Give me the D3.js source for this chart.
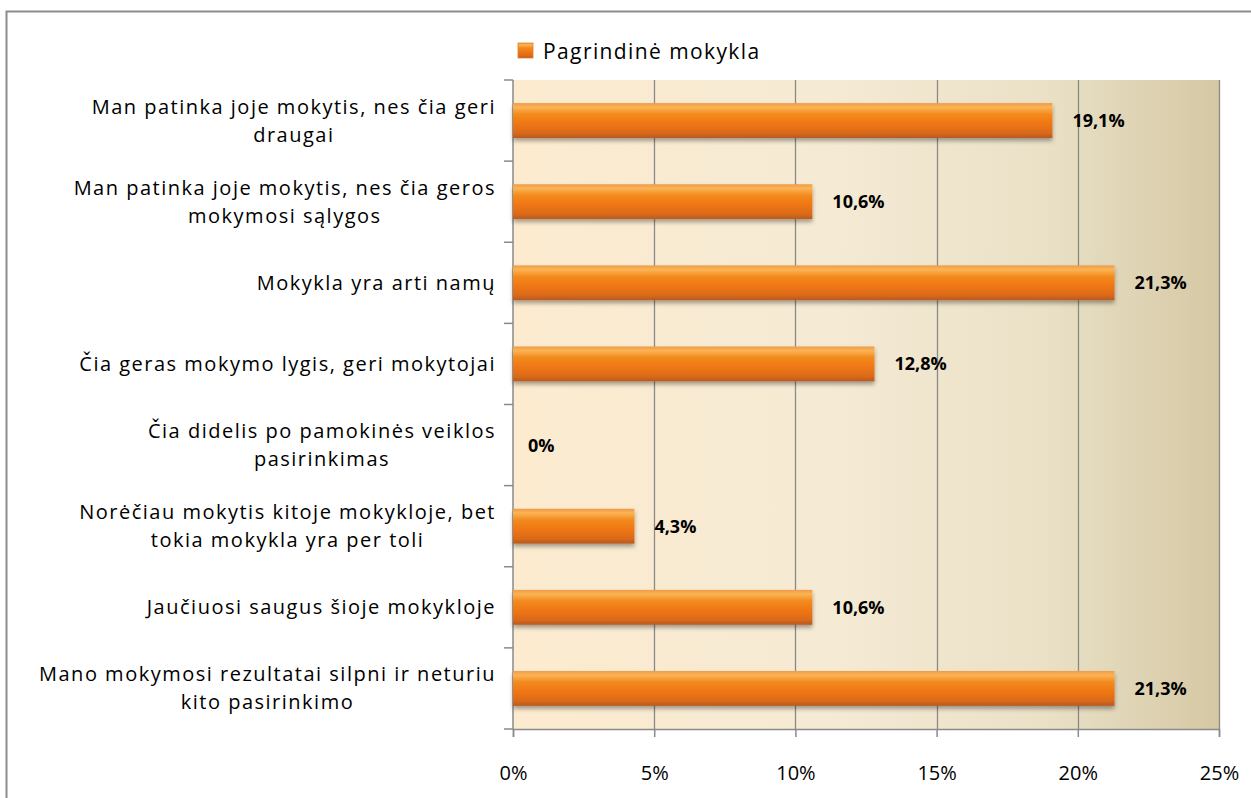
<!DOCTYPE html>
<html>
<head>
<meta charset="utf-8">
<script src="https://cdn.jsdelivr.net/npm/d3@7"></script>
<style>
  body { margin: 0; background: #fff; }
  svg { display: block; }
</style>
</head>
<body>
<div id="chart"></div>
<script>
// Data
const categories = [
    ["Man patinka joje mokytis, nes čia geri", "draugai"],
    ["Man patinka joje mokytis, nes čia geros", "mokymosi sąlygos"],
    ["Mokykla yra arti namų"],
    ["Čia geras mokymo lygis, geri mokytojai"],
    ["Čia didelis po pamokinės veiklos", "pasirinkimas"],
    ["Norėčiau mokytis kitoje mokykloje, bet", "tokia mokykla yra per toli"],
    ["Jaučiuosi saugus šioje mokykloje"],
    ["Mano mokymosi rezultatai silpni ir neturiu", "kito pasirinkimo"]
];
const values = [19.1, 10.6, 21.3, 12.8, 0, 4.3, 10.6, 21.3];
const valueLabels = ["19,1%", "10,6%", "21,3%", "12,8%", "0%", "4,3%", "10,6%", "21,3%"];
const xTicks = [0, 5, 10, 15, 20, 25];
const seriesName = "Pagrindinė mokykla";

const width = 1251, height = 798;
const plot = {left: 513, right: 1219, top: 80, bottom: 729};
const font = "'Open Sans', Lato, sans-serif";

const svg = d3.select("#chart").append("svg")
    .attr("width", width)
    .attr("height", height);

const defs = svg.append("defs");

// plot background gradient
const bg = defs.append("linearGradient").attr("id", "bgGrad")
    .attr("x1", "0").attr("x2", "1").attr("y1", "0").attr("y2", "0");
[["0", "#FCEBCF"], ["0.45", "#F5EAD4"], ["0.75", "#EAE1C7"], ["1", "#D5C8A4"]]
    .forEach(([o, c]) => bg.append("stop").attr("offset", o).attr("stop-color", c));

// bar gradient (vertical)
const bar = defs.append("linearGradient").attr("id", "barGrad")
    .attr("x1", "0").attr("x2", "0").attr("y1", "0").attr("y2", "1");
[["0", "#F09A4A"], ["0.12", "#FBB454"], ["0.32", "#F38A1E"], ["0.6", "#EF7612"], ["0.85", "#DB6A1A"], ["1", "#B65A22"]]
    .forEach(([o, c]) => bar.append("stop").attr("offset", o).attr("stop-color", c));

const shadow = defs.append("filter").attr("id", "shadow")
    .attr("x", "-5%").attr("y", "-20%").attr("width", "110%").attr("height", "160%");
shadow.append("feDropShadow")
    .attr("dx", 0).attr("dy", 3).attr("stdDeviation", 2)
    .attr("flood-color", "#000").attr("flood-opacity", 0.35);

// outer frame
svg.append("rect")
    .attr("x", 6.5).attr("y", 11.5)
    .attr("width", 1400).attr("height", 900)
    .attr("fill", "none")
    .attr("stroke", "#8c8c8c")
    .attr("stroke-width", 2);

// scales
const xScale = d3.scaleLinear()
    .domain([0, 25])
    .range([plot.left, plot.right]);

const yScale = d3.scaleBand()
    .domain(d3.range(categories.length))
    .range([plot.top, plot.bottom])
    .paddingInner(0.57)
    .paddingOuter(0.285);

// plot area
svg.append("rect")
    .attr("x", plot.left).attr("y", plot.top)
    .attr("width", plot.right - plot.left)
    .attr("height", plot.bottom - plot.top)
    .attr("fill", "url(#bgGrad)");

// gridlines
svg.append("g").selectAll("line")
    .data(xTicks.slice(1))
    .join("line")
    .attr("x1", d => Math.round(xScale(d)) + 0.5)
    .attr("x2", d => Math.round(xScale(d)) + 0.5)
    .attr("y1", plot.top)
    .attr("y2", plot.bottom)
    .attr("stroke", "#8a8a8a")
    .attr("stroke-width", 1.3);

// bottom axis
const xAxis = d3.axisBottom(xScale)
    .tickValues(xTicks)
    .tickSize(8)
    .tickFormat(d => d + "%");
const gx = svg.append("g")
    .attr("transform", `translate(0,${plot.bottom})`)
    .call(xAxis);
gx.select(".domain").attr("stroke", "#8a8a8a").attr("stroke-width", 1.5);
gx.selectAll(".tick line").attr("stroke", "#8a8a8a").attr("stroke-width", 1.5);
gx.selectAll(".tick text")
    .attr("y", 51)
    .attr("dy", "0")
    .attr("fill", "#000")
    .style("font-family", font)
    .style("font-size", "20px");

// left axis line and ticks at category boundaries
const gy = svg.append("g");
gy.append("line")
    .attr("x1", plot.left).attr("x2", plot.left)
    .attr("y1", plot.top).attr("y2", plot.bottom)
    .attr("stroke", "#8a8a8a").attr("stroke-width", 1.5);
const step = yScale.step();
gy.selectAll("line.tk")
    .data(d3.range(categories.length + 1))
    .join("line")
    .attr("class", "tk")
    .attr("x1", plot.left - 9).attr("x2", plot.left)
    .attr("y1", i => plot.top + i * step)
    .attr("y2", i => plot.top + i * step)
    .attr("stroke", "#8a8a8a").attr("stroke-width", 1.5);

// bars
svg.append("g").selectAll("rect")
    .data(values)
    .join("rect")
    .attr("x", xScale(0))
    .attr("y", (d, i) => yScale(i))
    .attr("width", d => xScale(d) - xScale(0))
    .attr("height", yScale.bandwidth())
    .attr("fill", "url(#barGrad)")
    .attr("filter", "url(#shadow)");

// value labels
svg.append("g").selectAll("text")
    .data(values)
    .join("text")
    .attr("x", d => xScale(d) + (d > 0 ? 20 : 15))
    .attr("y", (d, i) => yScale(i) + yScale.bandwidth() / 2)
    .attr("dy", "0.36em")
    .attr("fill", "#000")
    .style("font-family", font)
    .style("font-size", "18px")
    .style("font-weight", "bold")
    .text((d, i) => valueLabels[i]);

// category labels: block right-aligned, lines centred inside the block
const labelRight = 496;
const lineH = 28;
const catG = svg.append("g")
    .style("font-family", font)
    .style("font-size", "20px")
    .attr("fill", "#000");
categories.forEach((lines, i) => {
    const cy = yScale(i) + yScale.bandwidth() / 2;
    const g = catG.append("g");
    const texts = g.selectAll("text")
        .data(lines)
        .join("text")
        .attr("text-anchor", "middle")
        .attr("y", (d, j) => cy + (j - (lines.length - 1) / 2) * lineH)
        .attr("dy", "0.35em")
        .style("letter-spacing", "1.5px")
        .text(d => d);
    const maxW = d3.max(texts.nodes(), n => n.getComputedTextLength());
    texts.attr("x", labelRight - maxW / 2);
});

// legend
const leg = svg.append("g").attr("transform", "translate(518,43)");
leg.append("rect")
    .attr("width", 15).attr("height", 15)
    .attr("fill", "url(#barGrad)")
    .attr("stroke", "#E0832A").attr("stroke-width", 0.8);
leg.append("text")
    .attr("x", 25).attr("y", 8)
    .attr("dy", "0.36em")
    .attr("fill", "#000")
    .style("font-family", font)
    .style("font-size", "21px")
    .style("letter-spacing", "1.4px")
    .text(seriesName);
</script>
</body>
</html>
